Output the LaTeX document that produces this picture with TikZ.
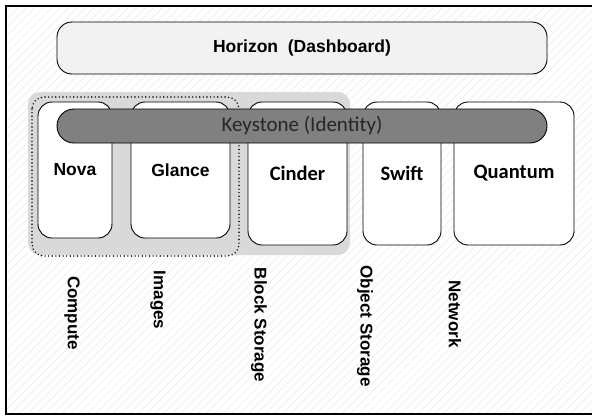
\documentclass[tikz,border=0pt]{standalone}
\usepackage{fontspec}
\setmainfont{Liberation Sans}
\newfontfamily\calfont{Carlito}
\usetikzlibrary{patterns.meta}

\tikzset{
    svcbox/.style={draw, fill=white, line width=.9pt, rounded corners=14pt, inner sep=0pt},
    armlabel/.style={font=\fontsize{17.5}{20}\selectfont\bfseries},
    callabel/.style={font=\calfont\fontsize{20.5}{24}\selectfont\bfseries},
    rotlabel/.style={rotate=-90, font=\fontsize{17}{20}\selectfont\bfseries}
}

\begin{document}
\begin{tikzpicture}[x=1pt, y=-1pt]
    \useasboundingbox (0,0) rectangle (592,416);
    \path[pattern={Lines[angle=45, distance=6pt, line width=.5pt]}, pattern color=black!9]
        (6,6) rectangle (600,414);
    \draw[line width=1.3pt] (600,6) -- (6,6) -- (6,414) -- (600,414);
    \node[svcbox, fill=black!5, rounded corners=15pt, minimum width=490pt, minimum height=52pt,
        font=\fontsize{17.5}{20}\selectfont\bfseries] (horizon) at (302,48) {Horizon\ \ (Dashboard)};
    \fill[black!15, rounded corners=12pt] (28,92) rectangle (350,255);
    \draw[line width=1.6pt, dash pattern=on 0pt off 3.6pt, line cap=round, rounded corners=12pt]
        (32,97) rectangle (239,256);
    \node[svcbox, armlabel, minimum width=74pt, minimum height=136pt] (nova) at (75,170) {Nova};
    \node[svcbox, armlabel, minimum width=99pt, minimum height=136pt] (glance) at (180.5,170) {Glance};
    \node[svcbox, callabel, minimum width=99pt, minimum height=143pt] (cinder) at (297.5,173.5) {Cinder};
    \node[svcbox, callabel, minimum width=78pt, minimum height=143pt] (swift) at (402,173.5) {Swift};
    \node[svcbox, callabel, minimum width=120pt, minimum height=143pt] (quantum) at (514,173.5) {Quantum};
    \node[svcbox, fill=black!50, rounded corners=17pt, minimum width=490pt, minimum height=34pt,
        text=black!85, font=\calfont\fontsize{21}{24}\selectfont] (keystone) at (302,126) {Keystone (Identity)};
    \node[rotlabel] (compute) at (72,313) {Compute};
    \node[rotlabel] (images) at (158,300) {Images};
    \node[rotlabel] (block) at (259,325) {Block Storage};
    \node[rotlabel] (object) at (365,326) {Object Storage};
    \node[rotlabel] (network) at (455,314) {Network};
\end{tikzpicture}
\end{document}
